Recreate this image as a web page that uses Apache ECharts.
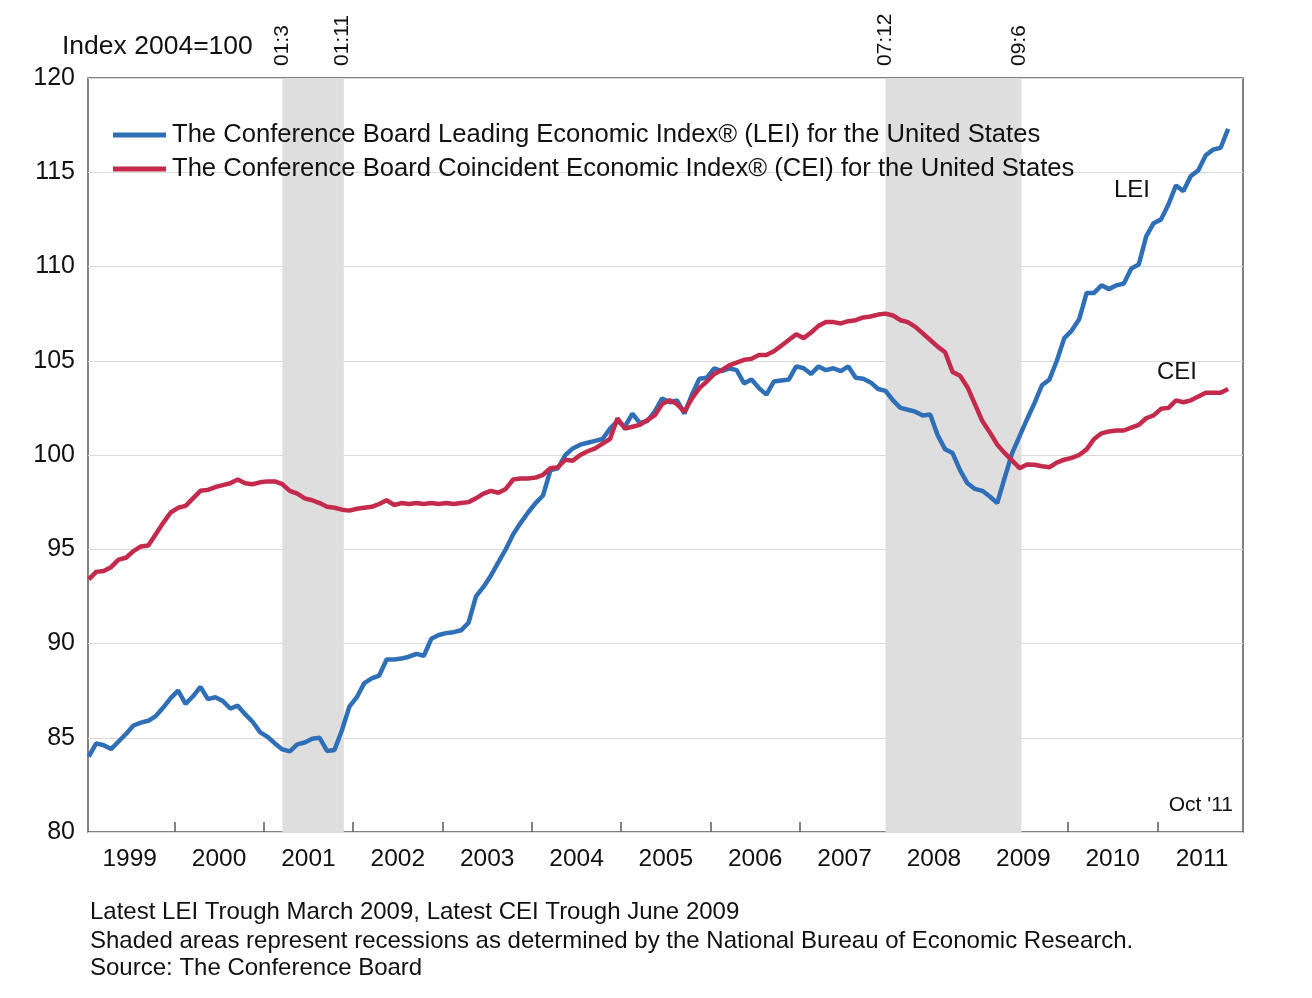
<!DOCTYPE html>
<html>
<head>
<meta charset="utf-8">
<script src="https://cdn.jsdelivr.net/npm/echarts@6/dist/echarts.min.js"></script>
<style>html,body{margin:0;padding:0;background:#fff}#c{width:1312px;height:998px}</style>
</head>
<body>
<div id="c"></div>
<script>
// ---- data (monthly, Jan 1999 .. Oct 2011) ----
const startYear = 1999;
const lei = [
  84.0, 84.7, 84.6, 84.4, 84.8, 85.2, 85.65, 85.8, 85.9, 86.15, 86.6, 87.1,
  87.5, 86.8, 87.2, 87.7, 87.05, 87.15, 86.95, 86.55, 86.7, 86.25, 85.85, 85.3,
  85.05, 84.7, 84.38, 84.28, 84.65, 84.75, 84.95, 85.0, 84.3, 84.35, 85.4, 86.65,
  87.15, 87.9, 88.15, 88.3, 89.15, 89.15, 89.2, 89.3, 89.45, 89.35, 90.25, 90.45,
  90.55, 90.6, 90.7, 91.1, 92.5, 93.0, 93.6, 94.3, 95.0, 95.8, 96.4, 96.95,
  97.45, 97.85, 99.2, 99.3, 100.0, 100.35, 100.55, 100.65, 100.75, 100.85, 101.4, 101.8,
  101.5, 102.2, 101.7, 101.8, 102.3, 103.0, 102.8, 102.9, 102.2, 103.2, 104.05, 104.1,
  104.6, 104.45, 104.6, 104.5, 103.8, 104.0, 103.55, 103.2, 103.9, 103.95, 104.0, 104.7,
  104.6, 104.3, 104.7, 104.5, 104.6, 104.45, 104.7, 104.1, 104.05, 103.85, 103.5, 103.4,
  102.9, 102.5, 102.4, 102.3, 102.1, 102.15, 101.05, 100.3, 100.1, 99.2, 98.5, 98.2,
  98.1, 97.8, 97.45, 98.8, 100.1, 101.0, 101.9, 102.75, 103.7, 104.0, 105.0, 106.2,
  106.6, 107.2, 108.6, 108.6, 109.0, 108.8, 109.0, 109.1, 109.9, 110.1, 111.6, 112.3,
  112.5, 113.3, 114.3, 114.0, 114.8, 115.1, 115.9, 116.2, 116.3, 117.3
];
const cei = [
  93.4, 93.8, 93.85, 94.05, 94.45, 94.55, 94.9, 95.15, 95.2, 95.8, 96.4, 96.95,
  97.2, 97.3, 97.7, 98.1, 98.15, 98.3, 98.4, 98.5, 98.7, 98.5, 98.45, 98.55,
  98.6, 98.6, 98.45, 98.1, 97.95, 97.7, 97.6, 97.45, 97.25, 97.2, 97.1, 97.05,
  97.15, 97.2, 97.25, 97.4, 97.6, 97.35, 97.45, 97.4, 97.45, 97.4, 97.45, 97.4,
  97.45, 97.4, 97.45, 97.5, 97.7, 97.95, 98.1, 98.0, 98.2, 98.7, 98.75, 98.75,
  98.8, 98.95, 99.3, 99.35, 99.75, 99.7, 100.0, 100.2, 100.35, 100.6, 100.85, 101.95,
  101.4, 101.5, 101.6, 101.85, 102.1, 102.7, 102.9, 102.7, 102.3, 103.0, 103.55, 103.9,
  104.3, 104.5, 104.75, 104.9, 105.05, 105.1, 105.3, 105.3, 105.5, 105.8, 106.1, 106.4,
  106.2, 106.5, 106.85, 107.05, 107.05, 106.98, 107.1, 107.15, 107.3, 107.35, 107.45, 107.5,
  107.4, 107.15, 107.05, 106.8, 106.45, 106.1, 105.75, 105.45, 104.4, 104.2, 103.6, 102.7,
  101.8, 101.2, 100.55, 100.1, 99.7, 99.3, 99.5, 99.48, 99.4, 99.35, 99.6, 99.75,
  99.85, 100.0, 100.3, 100.85, 101.15, 101.25, 101.3, 101.3, 101.45, 101.6, 101.95, 102.1,
  102.45, 102.5, 102.9, 102.8, 102.9, 103.1, 103.3, 103.3, 103.3, 103.5
];
const yearLabels = ['1999','2000','2001','2002','2003','2004','2005','2006','2007','2008','2009','2010','2011'];
const recessions = [['2001-03','2001-11'], ['2007-12','2009-06']];
const recessionLabels = ['01:3', '01:11', '07:12', '09:6'];
const seriesNames = [
  'The Conference Board Leading Economic Index\u00AE (LEI) for the United States',
  'The Conference Board Coincident Economic Index\u00AE (CEI) for the United States'
];
const footerLines = [
  'Latest LEI Trough March 2009, Latest CEI Trough June 2009',
  'Shaded areas represent recessions as determined by the National Bureau of Economic Research.',
  'Source: The Conference Board'
];

// ---- helpers ----
const monthIdx = s => (parseInt(s.slice(0,4)) - startYear) * 12 + parseInt(s.slice(5)) - 1;
const pos = m => m + 0.5;               // month centre on the x value axis
const toPairs = arr => arr.map((v, i) => [pos(i), v]);
const yearTicks = yearLabels.slice(1).map((y, i) => (i + 1) * 12);
const yearLabelPos = yearLabels.map((y, i) => i * 12 + 6);
const recBounds = [];
recessions.forEach(r => { recBounds.push(pos(monthIdx(r[0]))); recBounds.push(pos(monthIdx(r[1]))); });

const FONT = "'Liberation Sans', Arial, sans-serif";
const BLUE = '#2e6fb7', RED = '#c42a4b', INK = '#111111', AXIS = '#5a5a5a';

const chart = echarts.init(document.getElementById('c'), null, { renderer: 'canvas' });
chart.setOption({
  backgroundColor: '#ffffff',
  animation: false,
  grid: { left: 88, right: 69, top: 78, bottom: 166, show: true, borderColor: AXIS, borderWidth: 1.5, backgroundColor: 'transparent' },
  legend: {
    data: seriesNames,
    orient: 'vertical', left: 108, top: 117,
    itemWidth: 53, itemHeight: 5, itemGap: 8, icon: 'rect',
    textStyle: { fontFamily: FONT, fontSize: 25.6, color: INK, padding: [0, 0, 0, 1] }
  },
  xAxis: [{
    type: 'value', min: 0.4, max: 155.5,
    axisLine: { show: false },
    splitLine: { show: false },
    axisTick: { show: true, inside: true, length: 10, customValues: yearTicks, lineStyle: { color: AXIS, width: 1.5 } },
    axisLabel: {
      customValues: yearLabelPos, margin: 15,
      formatter: v => yearLabels[Math.round((v - 6) / 12)],
      fontFamily: FONT, fontSize: 24.5, color: INK
    }
  }, {
    type: 'value', min: 0.4, max: 155.5, position: 'top',
    axisLine: { show: false }, splitLine: { show: false }, axisTick: { show: false },
    axisLabel: {
      customValues: recBounds, rotate: -90, margin: 12,
      formatter: v => recessionLabels[recBounds.indexOf(v)],
      fontFamily: FONT, fontSize: 21, color: INK
    }
  }],
  yAxis: {
    type: 'value', min: 80, max: 120, interval: 5,
    axisLine: { show: false }, axisTick: { show: false },
    splitLine: { lineStyle: { color: '#d9d9d9', width: 1.2 } },
    axisLabel: { margin: 13, fontFamily: FONT, fontSize: 25, color: INK }
  },
  series: [{
    name: 'recessions', type: 'line', data: [], z: 1, silent: true,
    markArea: {
      silent: true,
      itemStyle: { color: '#dedede' },
      data: recessions.map(r => [{ xAxis: pos(monthIdx(r[0])) }, { xAxis: pos(monthIdx(r[1])) + 0.25 }])
    }
  }, {
    name: seriesNames[0], type: 'line', z: 3, data: toPairs(lei),
    showSymbol: false, color: BLUE, lineStyle: { color: BLUE, width: 4.5 }
  }, {
    name: seriesNames[1], type: 'line', z: 4, data: toPairs(cei),
    showSymbol: false, color: RED, lineStyle: { color: RED, width: 4.5 }
  }],
  graphic: [
    { type: 'text', style: { text: 'Index 2004=100', x: 62, y: 47, textVerticalAlign: 'middle', font: '26.5px ' + FONT, fill: INK } },
    { type: 'text', style: { text: 'LEI', x: 1132, y: 190, textAlign: 'center', textVerticalAlign: 'middle', font: '24px ' + FONT, fill: INK } },
    { type: 'text', style: { text: 'CEI', x: 1177, y: 372, textAlign: 'center', textVerticalAlign: 'middle', font: '24px ' + FONT, fill: INK } },
    { type: 'text', style: { text: "Oct '11", x: 1233, y: 805, textAlign: 'right', textVerticalAlign: 'middle', font: '21px ' + FONT, fill: INK } },
    { type: 'text', style: { text: footerLines[0], x: 90, y: 912, textVerticalAlign: 'middle', font: '24px ' + FONT, fill: INK } },
    { type: 'text', style: { text: footerLines[1], x: 90, y: 941, textVerticalAlign: 'middle', font: '24px ' + FONT, fill: INK } },
    { type: 'text', style: { text: footerLines[2], x: 90, y: 968, textVerticalAlign: 'middle', font: '24px ' + FONT, fill: INK } }
  ]
});
</script>
</body>
</html>
